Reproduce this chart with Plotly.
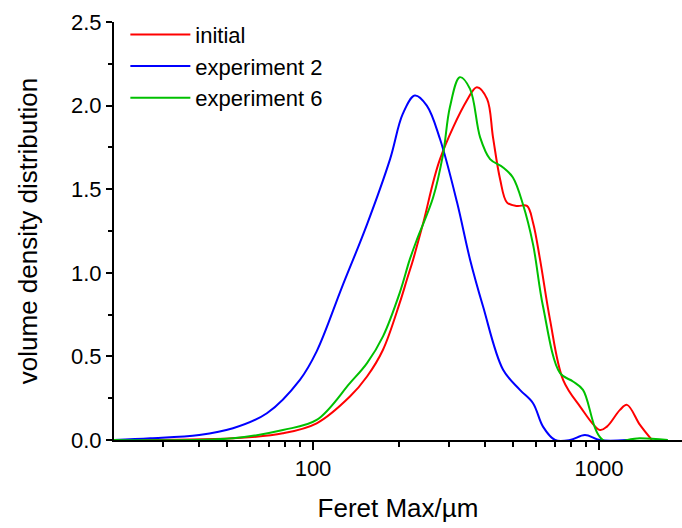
import plotly.graph_objects as go

# Feret Max (µm) and volume density distribution
x_initial = [20.1, 52.5, 78.5, 103, 134.6, 154.5, 175.7, 201, 213, 224, 243, 278, 345, 374, 406,
             426, 451, 477, 517, 560, 588, 622, 674, 749, 859, 1007, 1066, 1184, 1253, 1391, 1531]
y_initial = [0.0, 0.01, 0.04, 0.10, 0.26, 0.38, 0.54, 0.82, 0.96, 1.08, 1.30, 1.68, 2.03, 2.11, 2.04,
             1.81, 1.56, 1.42, 1.40, 1.40, 1.30, 1.08, 0.72, 0.36, 0.20, 0.06, 0.08, 0.18, 0.21, 0.09, 0.0]

x_exp2 = [20.1, 27, 40, 52.5, 69, 90, 103, 126, 154.5, 186, 206, 227, 250, 278,
          319, 354, 393, 462, 529, 588, 637, 702, 792, 893, 1007, 1253]
y_exp2 = [0.0, 0.01, 0.03, 0.07, 0.16, 0.36, 0.53, 0.91, 1.29, 1.68, 1.95, 2.06, 2.00, 1.80,
          1.42, 1.08, 0.80, 0.42, 0.30, 0.22, 0.08, 0.0, 0.0, 0.03, 0.0, 0.0]

x_exp6 = [20.1, 52.5, 78.5, 103, 134.6, 154.5, 175.7, 201, 218, 231, 263, 285, 301, 326, 354,
          384, 416, 462, 500, 542, 588, 637, 731, 811, 879, 1032, 1391, 1741]
y_exp6 = [0.0, 0.01, 0.06, 0.12, 0.34, 0.46, 0.62, 0.88, 1.08, 1.20, 1.45, 1.71, 1.99, 2.17, 2.10,
          1.81, 1.68, 1.63, 1.57, 1.41, 1.17, 0.80, 0.40, 0.35, 0.30, 0.0, 0.01, 0.0]

series_names = ["initial", "experiment 2", "experiment 6"]
series_colors = ["#FF0000", "#0000FF", "#00C000"]

x_major_ticks = [100, 1000]
x_minor_ticks = [20, 30, 40, 50, 60, 70, 80, 90, 200, 300, 400, 500, 600, 700, 800, 900, 2000]
y_ticks = [0.0, 0.5, 1.0, 1.5, 2.0, 2.5]

FONT = "Arial, 'Liberation Sans', sans-serif"

fig = go.Figure()
for name, xs, ys, col in zip(series_names,
                             [x_initial, x_exp2, x_exp6],
                             [y_initial, y_exp2, y_exp6],
                             series_colors):
    fig.add_trace(go.Scatter(x=xs, y=ys, mode="lines", name=name,
                             line=dict(color=col, width=2, shape="spline", smoothing=1.0)))

fig.update_layout(
    width=682, height=528,
    margin=dict(l=114, r=0, t=22, b=88),
    paper_bgcolor="white", plot_bgcolor="white",
    font=dict(family=FONT, size=22, color="black"),
    showlegend=True,
    legend=dict(x=0.02, y=1.02, xanchor="left", yanchor="top",
                bgcolor="rgba(0,0,0,0)", font=dict(size=22), tracegroupgap=0,
                itemwidth=60),
    xaxis=dict(type="log", range=[1.3042, 3.2902],
               tickmode="array", tickvals=x_major_ticks, ticktext=["100", "1000"],
               ticks="outside", ticklen=8, tickwidth=2, tickcolor="black",
               showline=True, linewidth=2, linecolor="black", mirror=False,
               showgrid=False, zeroline=False,
               minor=dict(tickmode="array", tickvals=x_minor_ticks, ticks="outside",
                          ticklen=5, tickwidth=2, tickcolor="black", showgrid=False),
               title=dict(text="Feret Max/µm", font=dict(size=26), standoff=18),
               tickfont=dict(size=22)),
    yaxis=dict(range=[0, 2.5], tickmode="array", tickvals=y_ticks,
               tickformat=".1f",
               ticks="outside", ticklen=6, tickwidth=2, tickcolor="black",
               showline=True, linewidth=2, linecolor="black",
               showgrid=False, zeroline=False,
               minor=dict(dtick=0.25, ticks="outside", ticklen=4, tickwidth=2,
                          tickcolor="black", showgrid=False),
               title=dict(text="volume density distribution", font=dict(size=26), standoff=26),
               tickfont=dict(size=22)),
)

fig.write_html("out.html")
